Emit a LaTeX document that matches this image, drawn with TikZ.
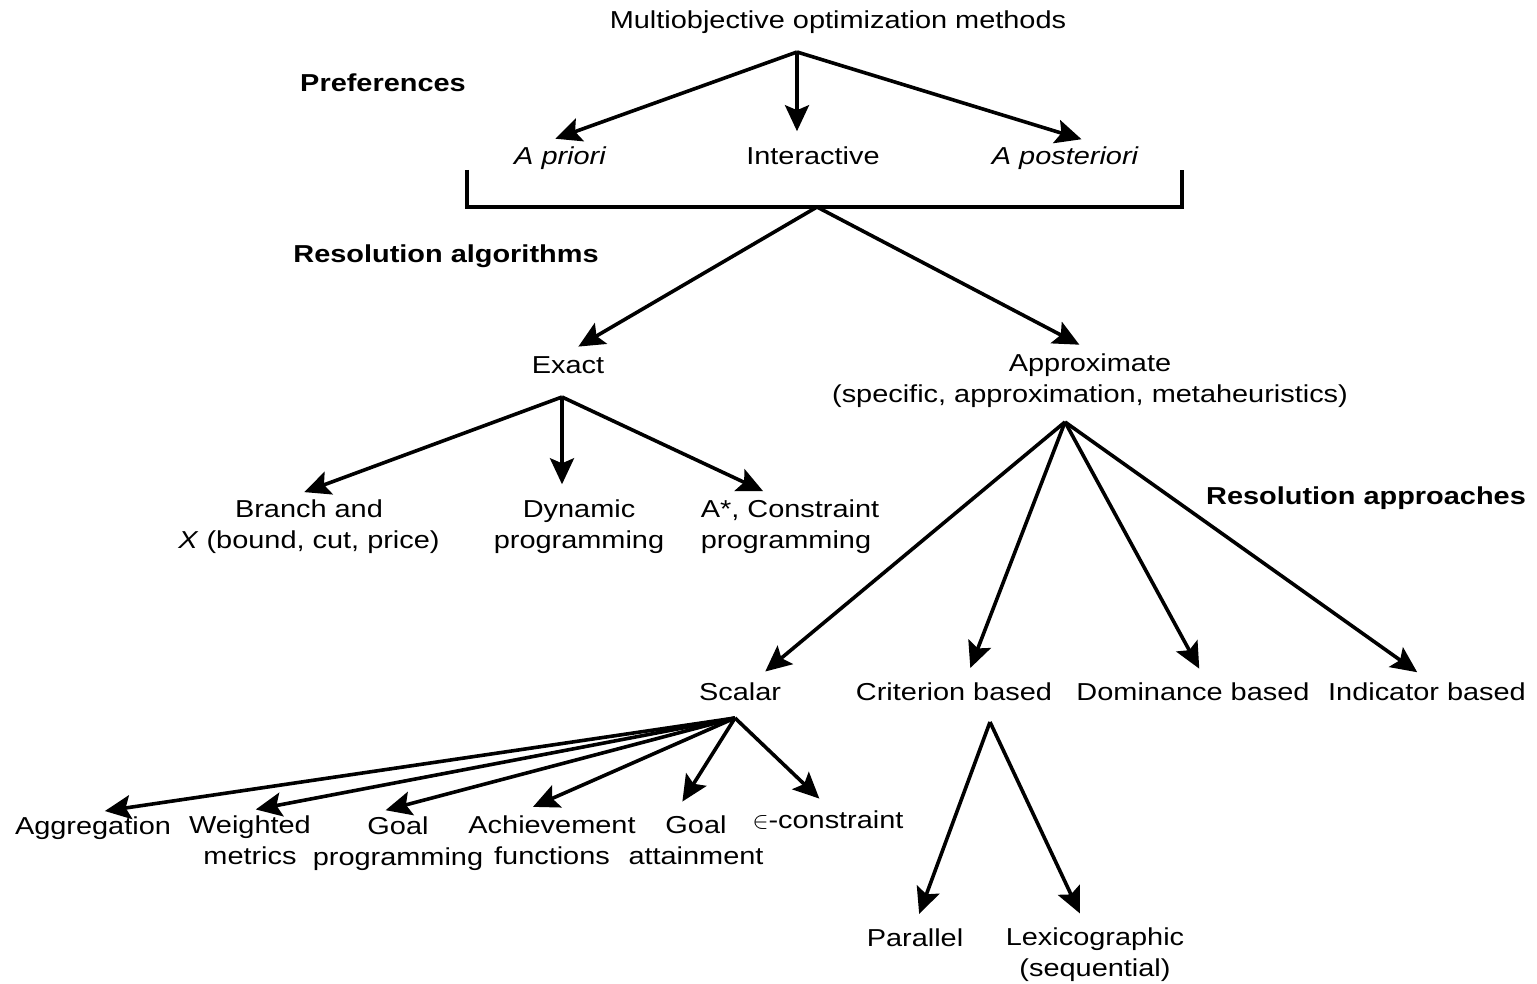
\documentclass[tikz,border=0pt]{standalone}
\usepackage{fontspec}
\setmainfont[FakeStretch=1.18]{Liberation Sans}
\usetikzlibrary{arrows.meta,positioning}

\begin{document}
\begin{tikzpicture}[x=0.5pt,y=-0.5pt,line width=1.8pt,
  lbl/.style={font=\fontsize{12.25}{15.5}\selectfont,inner sep=1pt,align=center},
  itlbl/.style={lbl,font=\fontsize{12.25}{15.5}\selectfont\itshape},
  hdr/.style={font=\fontsize{12.25}{15.5}\selectfont\bfseries,inner sep=1pt},
  arr/.style={-{Stealth[length=13pt,width=12pt,inset=2.5pt]},line width=1.8pt,shorten >=6pt}]
\useasboundingbox (0,0) rectangle (1537,984);
% preferences
\node[lbl] (top) at (838,22) {Multiobjective optimization methods};
\node[hdr] (pref) at (383,83) {Preferences};
\node[itlbl] (apriori) at (560,158) {A priori};
\node[lbl] (inter) at (813,156) {Interactive};
\node[itlbl] (apost) at (1065,158) {A posteriori};
\coordinate (topfork) at (797,52);
\draw[arr] (topfork) -- ([xshift=-8pt]apriori.north);
\draw[arr] (topfork) -- (topfork |- inter.north);
\draw[arr] (topfork) -- ([xshift=14pt]apost.north);
\draw (467,170) |- (1182,207) -- (1182,170);
\coordinate (brkfork) at (817,207);
% resolution algorithms
\node[hdr] (resalg) at (446,256) {Resolution algorithms};
\node[lbl] (exact) at (568,365) {Exact};
\node[lbl] (approx) at (1090,381) {Approximate\\(specific, approximation, metaheuristics)};
\draw[arr] (brkfork) -- (exact.north);
\draw[arr] (brkfork) -- (approx.north);
\coordinate (exfork) at (562,397);
\node[lbl] (bandx) at (309,527) {Branch and\\\textit{X} (bound, cut, price)};
\node[lbl] (dynprog) at (579,527) {Dynamic\\programming};
\node[lbl,align=left,anchor=west] (astar) at (697,527) {A*, Constraint\\programming};
\draw[arr] (exfork) -- ([xshift=-8pt]bandx.north);
\draw[arr] (exfork) -- (exfork |- dynprog.north);
\draw[arr] (exfork) -- ([xshift=-8pt]astar.north);
% resolution approaches
\node[hdr] (resapp) at (1366,498) {Resolution approaches};
\coordinate (apfork) at (1065,422);
\node[lbl] (scalar) at (740,692) {Scalar};
\node[lbl] (crit) at (954,692) {Criterion based};
\node[lbl] (dom) at (1193,692) {Dominance based};
\node[lbl] (ind) at (1427,692) {Indicator based};
\draw[arr] (apfork) -- ([xshift=8pt]scalar.north);
\draw[arr] (apfork) -- ([xshift=6pt]crit.north);
\draw[arr] (apfork) -- ([xshift=6pt]dom.north);
\draw[arr] (apfork) -- (ind.north);
% scalar methods
\coordinate (scfork) at (735,718);
\node[lbl] (aggr) at (93,828) {Aggregation};
\node[lbl] (wmet) at (250,840) {Weighted\\metrics};
\node[lbl] (goalprog) at (398,844) {Goal\\programming};
\node[lbl] (achfun) at (552,840) {Achievement\\functions};
\node[lbl] (goalatt) at (696,840) {Goal\\attainment};
\node[lbl] (epscon) at (828,820) {$\in$-constraint};
\draw[arr] (scfork) -- (aggr.north);
\draw[arr] (scfork) -- ([xshift=-3pt]wmet.north);
\draw[arr] (scfork) -- ([xshift=-12pt]goalprog.north);
\draw[arr] (scfork) -- ([xshift=-15pt]achfun.north);
\draw[arr] (scfork) -- ([xshift=-10pt]goalatt.north);
\draw[arr] (scfork) -- (epscon.north);
% criterion based
\coordinate (crfork) at (990,722);
\node[lbl] (par) at (915,938) {Parallel};
\node[lbl] (lex) at (1095,955) {Lexicographic\\(sequential)};
\draw[arr] (crfork) -- (par.north);
\draw[arr] (crfork) -- ([xshift=-5pt]lex.north);
\end{tikzpicture}
\end{document}
